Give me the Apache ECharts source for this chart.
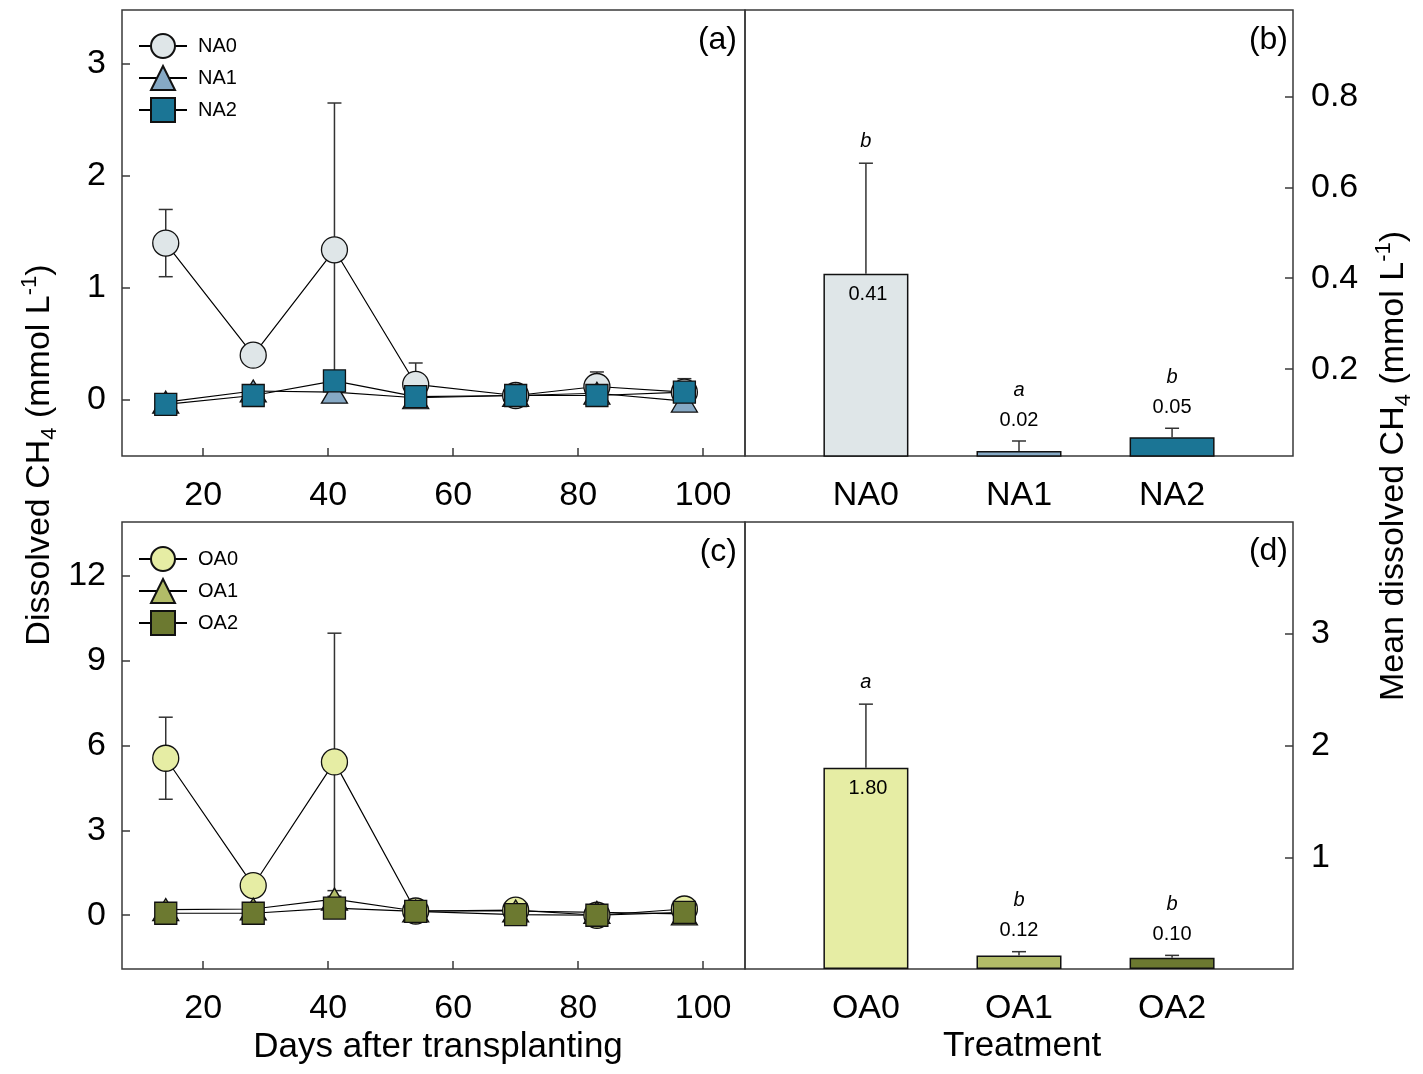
<!DOCTYPE html>
<html><head><meta charset="utf-8">
<script src="https://cdn.jsdelivr.net/npm/echarts@6/dist/echarts.min.js"></script>
<style>html,body{margin:0;padding:0;background:#fff}#c{width:1423px;height:1074px}</style>
</head><body><div id="c"></div>
<script>
// ---------- data ----------
const days = [14, 28, 41, 54, 70, 83, 97];
const NA0 = [1.40, 0.40, 1.34, 0.14, 0.04, 0.12, 0.07];
const NA0_se = [0.30, 0.04, 1.31, 0.19, 0.03, 0.13, 0.12];
const NA1 = [-0.02, 0.08, 0.07, 0.02, 0.04, 0.06, -0.01];
const NA1_se = [0.02, 0.02, 0.02, 0.02, 0.02, 0.03, 0.04];
const NA2 = [-0.04, 0.04, 0.17, 0.03, 0.04, 0.04, 0.07];
const NA2_se = [0.02, 0.02, 0.03, 0.02, 0.02, 0.02, 0.04];
const OA0 = [5.55, 1.05, 5.42, 0.15, 0.18, 0.00, 0.22];
const OA0_se = [1.45, 0.10, 4.55, 0.10, 0.10, 0.06, 0.10];
const OA1 = [0.20, 0.22, 0.57, 0.15, 0.15, 0.10, 0.05];
const OA1_se = [0.05, 0.05, 0.10, 0.05, 0.05, 0.05, 0.05];
const OA2 = [0.07, 0.07, 0.25, 0.14, 0.02, 0.00, 0.10];
const OA2_se = [0.05, 0.05, 0.08, 0.05, 0.05, 0.05, 0.05];

const naCats = ['NA0', 'NA1', 'NA2'];
const naMeans = [0.41, 0.02, 0.05];
const naSE = [0.243, 0.022, 0.02];
const naLetters = ['b', 'a', 'b'];
const oaCats = ['OA0', 'OA1', 'OA2'];
const oaMeans = [1.80, 0.12, 0.10];
const oaSE = [0.57, 0.035, 0.022];
const oaLetters = ['a', 'b', 'b'];

const xTicksDays = [20, 40, 60, 80, 100];
const yTicksA = [0, 1, 2, 3];
const yTicksC = [0, 3, 6, 9, 12];
const yTicksB = [0.2, 0.4, 0.6, 0.8];
const yTicksD = [1, 2, 3];
const barPos = [1, 2, 3];

// ---------- styles ----------
const FONT = '"Liberation Sans", Arial, sans-serif';
const naColors = ['#dfe6e8', '#86a9c5', '#1b7595'];
const oaColors = ['#e6eda4', '#b2bc68', '#6c7930'];
const frame = '#3a3a3a';

const chart = echarts.init(document.getElementById('c'));

const grids = [
  {left: 122, top: 10, width: 623, height: 446},
  {left: 745, top: 10, width: 548, height: 446},
  {left: 122, top: 522, width: 623, height: 447},
  {left: 745, top: 522, width: 548, height: 447}
].map(g => Object.assign(g, {show: true, borderColor: frame, borderWidth: 1.5, backgroundColor: 'transparent'}));

function tickCfg(vals) { return {show: true, inside: true, length: 8, customValues: vals, lineStyle: {color: frame, width: 1.5}}; }
function labelCfg(vals, margin, fmt) {
  const o = {show: true, customValues: vals, margin: margin, color: '#000', fontSize: 34, fontFamily: FONT};
  if (fmt) o.formatter = fmt;
  return o;
}
const noLine = {show: false, onZero: false};

const xAxes = [
  {type: 'value', gridIndex: 0, min: 7, max: 106.7, axisLine: noLine, splitLine: {show: false},
   axisTick: tickCfg(xTicksDays), axisLabel: labelCfg(xTicksDays, 23)},
  {type: 'value', gridIndex: 1, min: 0.21, max: 3.79, axisLine: noLine, splitLine: {show: false},
   axisTick: {show: false}, axisLabel: labelCfg(barPos, 23, v => naCats[Math.round(v) - 1])},
  {type: 'value', gridIndex: 2, min: 7, max: 106.7, axisLine: noLine, splitLine: {show: false},
   axisTick: tickCfg(xTicksDays), axisLabel: labelCfg(xTicksDays, 23)},
  {type: 'value', gridIndex: 3, min: 0.21, max: 3.79, axisLine: noLine, splitLine: {show: false},
   axisTick: {show: false}, axisLabel: labelCfg(barPos, 23, v => oaCats[Math.round(v) - 1])}
];
const yAxes = [
  {type: 'value', gridIndex: 0, min: -0.5, max: 3.48, axisLine: noLine, splitLine: {show: false},
   axisTick: tickCfg(yTicksA), axisLabel: labelCfg(yTicksA, 16)},
  {type: 'value', gridIndex: 1, position: 'right', min: 0.009, max: 0.99, axisLine: noLine, splitLine: {show: false},
   axisTick: tickCfg(yTicksB), axisLabel: labelCfg(yTicksB, 18, v => v.toFixed(1))},
  {type: 'value', gridIndex: 2, min: -1.9, max: 13.9, axisLine: noLine, splitLine: {show: false},
   axisTick: tickCfg(yTicksC), axisLabel: labelCfg(yTicksC, 16)},
  {type: 'value', gridIndex: 3, position: 'right', min: 0, max: 4, axisLine: noLine, splitLine: {show: false},
   axisTick: tickCfg(yTicksD), axisLabel: labelCfg(yTicksD, 18)}
];

const series = [];
function addLine(name, vals, se, symbol, size, color, gi) {
  series.push({
    type: 'custom', name: name + '_err', xAxisIndex: gi, yAxisIndex: gi, z: 1, silent: true,
    data: days.map((d, i) => [d, vals[i], se[i]]),
    renderItem: function (params, api) {
      const x = api.value(0), m = api.value(1), s = api.value(2);
      const p1 = api.coord([x, m + s]), p2 = api.coord([x, m - s]);
      const hw = 7, st = {stroke: '#333', lineWidth: 1.5};
      return {type: 'group', children: [
        {type: 'line', shape: {x1: p1[0], y1: p1[1], x2: p2[0], y2: p2[1]}, style: st},
        {type: 'line', shape: {x1: p1[0] - hw, y1: p1[1], x2: p1[0] + hw, y2: p1[1]}, style: st},
        {type: 'line', shape: {x1: p2[0] - hw, y1: p2[1], x2: p2[0] + hw, y2: p2[1]}, style: st}
      ]};
    }
  });
  series.push({
    type: 'line', name: name, xAxisIndex: gi, yAxisIndex: gi, z: 3,
    data: days.map((d, i) => [d, vals[i]]),
    symbol: symbol, symbolSize: size, showAllSymbol: true,
    lineStyle: {color: '#000', width: 1.2},
    itemStyle: {color: color, borderColor: '#111', borderWidth: 1.3},
    emphasis: {disabled: true}, animation: false
  });
}
addLine('NA0', NA0, NA0_se, 'circle', 26, naColors[0], 0);
addLine('NA1', NA1, NA1_se, 'triangle', [26, 22], naColors[1], 0);
addLine('NA2', NA2, NA2_se, 'rect', 22, naColors[2], 0);
addLine('OA0', OA0, OA0_se, 'circle', 26, oaColors[0], 2);
addLine('OA1', OA1, OA1_se, 'triangle', [26, 22], oaColors[1], 2);
addLine('OA2', OA2, OA2_se, 'rect', 22, oaColors[2], 2);

function addBars(means, se, letters, colors, gi) {
  series.push({
    type: 'bar', xAxisIndex: gi, yAxisIndex: gi, barWidth: 85, z: 2, animation: false,
    data: means.map((v, i) => ({value: [barPos[i], v], itemStyle: {color: colors[i], borderColor: '#111', borderWidth: 1.5}})),
    emphasis: {disabled: true}
  });
  series.push({
    type: 'custom', xAxisIndex: gi, yAxisIndex: gi, z: 4, silent: true,
    data: means.map((v, i) => [barPos[i], v, se[i]]),
    renderItem: function (params, api) {
      const i = params.dataIndex;
      const x = api.value(0), m = api.value(1), s = api.value(2);
      const base = api.coord([x, m]), top = api.coord([x, m + s]);
      const bottomY = params.coordSys.y + params.coordSys.height;
      const inside = (bottomY - base[1]) > 60;
      const st = {stroke: '#333', lineWidth: 1.5};
      const valY = inside ? base[1] + 21 : top[1] - 21;
      const valX = inside ? base[0] + 2 : base[0];
      const letY = inside ? top[1] - 22 : top[1] - 51;
      return {type: 'group', children: [
        {type: 'line', shape: {x1: base[0], y1: base[1], x2: top[0], y2: top[1]}, style: st},
        {type: 'line', shape: {x1: top[0] - 7, y1: top[1], x2: top[0] + 7, y2: top[1]}, style: st},
        {type: 'text', x: valX, y: valY, style: {text: m.toFixed(2), textAlign: 'center', textVerticalAlign: 'middle', font: '20px ' + FONT, fill: '#000'}},
        {type: 'text', x: base[0], y: letY, style: {text: letters[i], textAlign: 'center', textVerticalAlign: 'middle', font: 'italic 20px ' + FONT, fill: '#000'}}
      ]};
    }
  });
}
addBars(naMeans, naSE, naLetters, naColors, 1);
addBars(oaMeans, oaSE, oaLetters, oaColors, 3);

function legendCfg(names, top) {
  return {
    data: names, orient: 'vertical', left: 138, top: top, padding: 0,
    itemWidth: 48, itemHeight: 30, itemGap: 6, selectedMode: false,
    textStyle: {fontSize: 20, fontFamily: FONT, color: '#000', padding: [0, 0, 0, 6]}
  };
}

const richTitle = {
  n: {fontSize: 34, fontFamily: FONT, lineHeight: 42, color: '#000'},
  s: {fontSize: 22, fontFamily: FONT, lineHeight: 18, verticalAlign: 'bottom', color: '#000'},
  p: {fontSize: 22, fontFamily: FONT, lineHeight: 18, verticalAlign: 'top', color: '#000'}
};
function gText(x, y, text, align, size) {
  return {type: 'text', x: x, y: y, silent: true,
    style: {text: text, textAlign: align, textVerticalAlign: 'middle', font: size + 'px ' + FONT, fill: '#000'}};
}

chart.setOption({
  animation: false,
  grid: grids,
  xAxis: xAxes,
  yAxis: yAxes,
  legend: [legendCfg(['NA0', 'NA1', 'NA2'], 33), legendCfg(['OA0', 'OA1', 'OA2'], 546)],
  series: series,
  graphic: [
    gText(737, 40, '(a)', 'right', 32),
    gText(1288, 40, '(b)', 'right', 32),
    gText(737, 552, '(c)', 'right', 32),
    gText(1288, 551, '(d)', 'right', 32),
    gText(438, 1047, 'Days after transplanting', 'center', 35),
    gText(1022, 1046, 'Treatment', 'center', 35),
    {type: 'text', x: 40, y: 455, rotation: Math.PI / 2, silent: true,
     style: {text: '{n|Dissolved CH}{s|4}{n| (mmol L}{p|-1}{n|)}', rich: richTitle, textAlign: 'center', textVerticalAlign: 'middle', fill: '#000'}},
    {type: 'text', x: 1394, y: 466, rotation: Math.PI / 2, silent: true,
     style: {text: '{n|Mean dissolved CH}{s|4}{n| (mmol L}{p|-1}{n|)}', rich: richTitle, textAlign: 'center', textVerticalAlign: 'middle', fill: '#000'}}
  ]
});
</script></body></html>
